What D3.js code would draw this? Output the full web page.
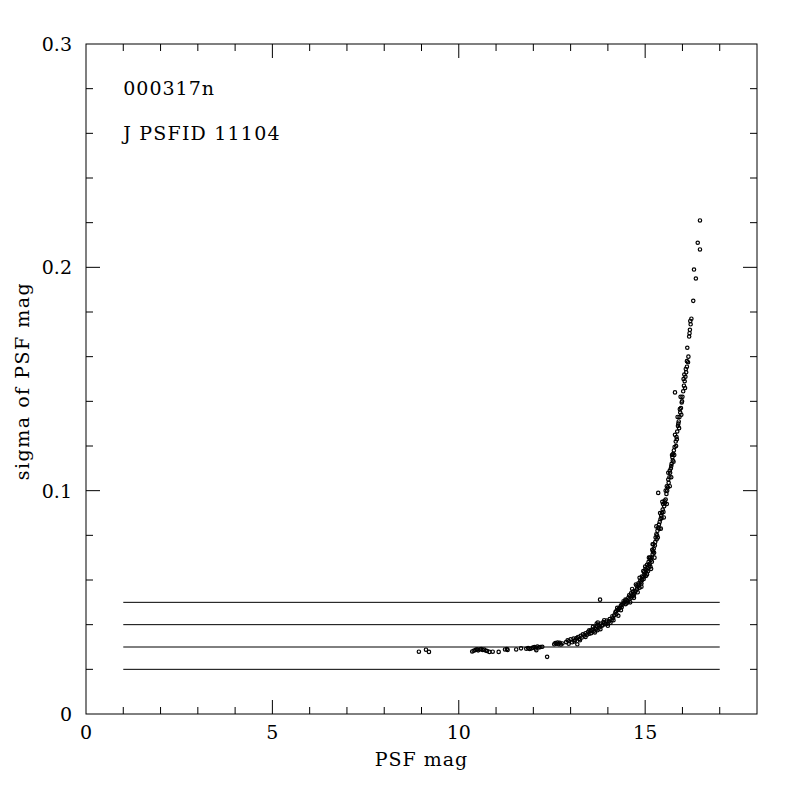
<!DOCTYPE html>
<html>
<head>
<meta charset="utf-8">
<script src="https://cdn.jsdelivr.net/npm/d3@7"></script>
<style>
  body { margin: 0; background: #fff; }
  text { font-family: "DejaVu Serif", serif; fill: #000; }
</style>
</head>
<body>
<div id="chart"></div>
<script>
// PSF magnitude of each star (x)
var mag = [
  8.93, 9.12, 9.20, 10.36, 10.40, 10.45, 10.49, 10.52, 10.56, 10.60, 10.64, 10.68, 10.72, 10.76,
  10.82, 10.91, 11.07, 11.24, 11.29, 11.31, 11.54, 11.67, 11.81, 11.86, 11.90, 11.95, 11.99, 12.03,
  12.06, 12.08, 12.11, 12.15, 12.19, 12.24, 12.37, 12.56, 12.59, 12.62, 12.65, 12.68, 12.71, 12.74,
  12.78, 12.88, 12.92, 12.96, 13.00, 13.04, 13.08, 13.12, 13.16, 13.18, 13.20, 13.23, 13.27, 13.30,
  13.33, 13.37, 13.40, 13.44, 13.47, 13.50, 13.54, 13.58, 13.62, 13.65, 13.68, 13.70, 13.72, 13.75,
  13.78, 13.79, 13.82, 13.84, 13.88, 13.92, 13.95, 13.99, 14.03, 14.07, 14.10, 14.14, 14.17, 14.20,
  14.23, 14.26, 14.28, 14.31, 14.34, 14.37, 14.40, 14.43, 14.46, 14.48, 14.50, 14.53, 14.55, 14.58,
  14.60, 14.63, 14.66, 14.69, 14.72, 14.75, 14.78, 14.80, 14.83, 14.85, 14.88, 14.90, 14.92, 14.94,
  14.96, 14.98, 15.00, 15.02, 15.04, 15.06, 15.08, 15.10, 15.12, 15.14, 15.15, 15.17, 15.18, 15.20,
  15.21, 15.23, 15.24, 15.26, 15.28, 15.30, 15.31, 15.33, 15.35, 15.35, 15.37, 15.39, 15.41, 15.43,
  15.45, 15.47, 15.49, 15.51, 15.53, 15.55, 15.57, 15.59, 15.61, 15.63, 15.65, 15.67, 15.69, 15.71,
  15.73, 15.75, 15.77, 15.79, 15.82, 15.84, 15.86, 15.88, 15.90, 15.92, 15.94, 15.96, 15.80, 15.98,
  16.00, 16.02, 16.04, 16.06, 16.08, 16.10, 16.12, 16.15, 16.13, 16.18, 16.20, 16.22, 16.24, 16.29,
  16.36, 16.31, 16.47, 16.41, 16.47,
  14.47, 14.52, 14.57, 14.62, 14.67, 14.71, 14.77, 14.82, 14.87, 14.91, 14.97, 15.01, 15.05, 15.09,
  15.13, 15.19, 15.22, 15.27, 15.32, 15.38, 15.44, 15.48, 15.52, 15.58, 15.62, 15.66, 15.70, 15.74,
  15.78, 15.85, 15.89, 15.93, 15.99, 16.03, 16.09, 16.16, 16.21, 16.19, 13.55, 13.60, 13.73, 13.86,
  13.97, 14.05, 14.12, 14.22, 14.29, 14.36,
  15.00, 15.05, 15.10, 15.16, 15.20, 15.25, 15.30, 15.34, 15.40, 15.42, 15.46, 15.50, 15.55, 15.58,
  15.62, 15.66, 15.72, 15.70, 15.80, 15.76, 15.87, 15.83, 15.95, 15.91, 16.05, 15.97, 16.12, 16.07,
  14.60, 14.65, 14.70, 14.75, 14.80, 14.85, 14.90, 14.95, 13.65, 13.70, 13.80, 13.90, 14.00, 14.15,
  14.25, 14.35, 14.42, 13.10, 13.25, 13.40, 13.50, 12.95
];
// sigma of PSF mag (y)
var sigma = [
  0.0279, 0.0288, 0.0278, 0.0280, 0.0283, 0.0287, 0.0290, 0.0285, 0.0289, 0.0291, 0.0287, 0.0289, 0.0284, 0.0282,
  0.0278, 0.0279, 0.0278, 0.0289, 0.0291, 0.0287, 0.0289, 0.0294, 0.0292, 0.0295, 0.0291, 0.0294, 0.0297, 0.0300,
  0.0293, 0.0286, 0.0302, 0.0298, 0.0300, 0.0301, 0.0256, 0.0312, 0.0318, 0.0315, 0.0320, 0.0313, 0.0319, 0.0311,
  0.0316, 0.0322, 0.0330, 0.0326, 0.0334, 0.0321, 0.0338, 0.0331, 0.0340, 0.0312, 0.0345, 0.0336, 0.0350, 0.0342,
  0.0357, 0.0352, 0.0361, 0.0355, 0.0368, 0.0359, 0.0372, 0.0378, 0.0370, 0.0385, 0.0380, 0.0392, 0.0375, 0.0398,
  0.0388, 0.0512, 0.0405, 0.0395, 0.0412, 0.0402, 0.0410, 0.0404, 0.0415, 0.0409, 0.0420, 0.0430, 0.0442, 0.0455,
  0.0448, 0.0466, 0.0440, 0.0474, 0.0482, 0.0478, 0.0490, 0.0497, 0.0503, 0.0492, 0.0510, 0.0505, 0.0520, 0.0514,
  0.0527, 0.0521, 0.0535, 0.0530, 0.0545, 0.0552, 0.0560, 0.0570, 0.0578, 0.0565, 0.0590, 0.0584, 0.0600, 0.0612,
  0.0605, 0.0622, 0.0630, 0.0618, 0.0645, 0.0652, 0.0640, 0.0665, 0.0672, 0.0660, 0.0690, 0.0700, 0.0682, 0.0715,
  0.0728, 0.0740, 0.0722, 0.0755, 0.0790, 0.0805, 0.0782, 0.0820, 0.0835, 0.0990, 0.0848, 0.0860, 0.0872, 0.0888,
  0.0900, 0.0915, 0.0905, 0.0930, 0.0945, 0.0960, 0.0985, 0.1000, 0.1015, 0.1035, 0.1060, 0.1080, 0.1100, 0.1120,
  0.1150, 0.1165, 0.1180, 0.1195, 0.1220, 0.1240, 0.1265, 0.1290, 0.1310, 0.1330, 0.1350, 0.1370, 0.1440, 0.1395,
  0.1420, 0.1445, 0.1470, 0.1490, 0.1510, 0.1530, 0.1555, 0.1575, 0.1640, 0.1690, 0.1720, 0.1745, 0.1770, 0.1850,
  0.1950, 0.1990, 0.2080, 0.2110, 0.2210,
  0.0512, 0.0498, 0.0532, 0.0540, 0.0548, 0.0538, 0.0575, 0.0585, 0.0598, 0.0615, 0.0635, 0.0650, 0.0668, 0.0680,
  0.0700, 0.0735, 0.0760, 0.0770, 0.0800, 0.0830, 0.0878, 0.0940, 0.0955, 0.1020, 0.1050, 0.1090, 0.1110, 0.1135,
  0.1160, 0.1230, 0.1300, 0.1365, 0.1400, 0.1500, 0.1545, 0.1600, 0.1760, 0.1705, 0.0362, 0.0390, 0.0410, 0.0398,
  0.0418, 0.0425, 0.0438, 0.0460, 0.0470, 0.0488,
  0.0660, 0.0625, 0.0700, 0.0650, 0.0760, 0.0700, 0.0840, 0.0790, 0.0900, 0.0830, 0.0950, 0.0880, 0.1000, 0.0940,
  0.1080, 0.1020, 0.1160, 0.1060, 0.1250, 0.1130, 0.1330, 0.1200, 0.1420, 0.1280, 0.1520, 0.1340, 0.1580, 0.1460,
  0.0500, 0.0560, 0.0520, 0.0580, 0.0545, 0.0610, 0.0570, 0.0640, 0.0365, 0.0405, 0.0380, 0.0420, 0.0395, 0.0420,
  0.0475, 0.0465, 0.0505, 0.0325, 0.0330, 0.0345, 0.0375, 0.0315
];
// horizontal reference levels, drawn from mag 1 to 17
var levels = [0.02, 0.03, 0.04, 0.05];
var levelRange = [1, 17];
var xTickLabels = [0, 5, 10, 15];
var yTickLabels = [0, 0.1, 0.2, 0.3];
var title1 = "000317n";
var title2 = "J PSFID 11104";

var margin = {top: 44, right: 43, bottom: 86, left: 86},
    width = 800 - margin.left - margin.right,
    height = 800 - margin.top - margin.bottom;

var svg = d3.select("#chart")
  .append("svg")
  .attr("width", 800)
  .attr("height", 800)
  .append("g")
  .attr("transform", "translate(" + margin.left + "," + margin.top + ")");

var x = d3.scaleLinear().domain([0, 18]).range([0, width]);
var y = d3.scaleLinear().domain([0, 0.3]).range([height, 0]);

var majorLen = 14, minorLen = 7;
var fmtY = function(d) { return d === 0 ? "0" : d3.format(".1f")(d); };

// inward ticks on all four sides
function tickLines(values, isMajor) {
  return values.map(function(v) { return {v: v, len: isMajor(v) ? majorLen : minorLen}; });
}
var xTicks = tickLines(d3.range(1, 18), function(v) { return v % 5 === 0; });
var yTicks = tickLines(d3.range(1, 15).map(function(i) { return i * 0.02; }),
                       function(v) { return Math.abs(v * 10 - Math.round(v * 10)) < 1e-6; });

var tg = svg.append("g").attr("stroke", "#000").attr("stroke-width", 1);
tg.selectAll(".xb").data(xTicks).enter().append("line")
  .attr("x1", function(d) { return x(d.v); }).attr("x2", function(d) { return x(d.v); })
  .attr("y1", height).attr("y2", function(d) { return height - d.len; });
tg.selectAll(".xt").data(xTicks).enter().append("line")
  .attr("x1", function(d) { return x(d.v); }).attr("x2", function(d) { return x(d.v); })
  .attr("y1", 0).attr("y2", function(d) { return d.len; });
tg.selectAll(".yl").data(yTicks).enter().append("line")
  .attr("y1", function(d) { return y(d.v); }).attr("y2", function(d) { return y(d.v); })
  .attr("x1", 0).attr("x2", function(d) { return d.len; });
tg.selectAll(".yr").data(yTicks).enter().append("line")
  .attr("y1", function(d) { return y(d.v); }).attr("y2", function(d) { return y(d.v); })
  .attr("x1", width).attr("x2", function(d) { return width - d.len; });

// frame
svg.append("rect")
  .attr("x", 0).attr("y", 0).attr("width", width).attr("height", height)
  .attr("fill", "none").attr("stroke", "#000").attr("stroke-width", 1);

// tick labels
svg.selectAll(".xlab").data(xTickLabels).enter().append("text")
  .attr("x", function(d) { return x(d); })
  .attr("y", height + 25)
  .attr("text-anchor", "middle")
  .style("font-size", "19px")
  .text(function(d) { return d; });
svg.selectAll(".ylab").data(yTickLabels).enter().append("text")
  .attr("x", -14)
  .attr("y", function(d) { return y(d) + 7; })
  .attr("text-anchor", "end")
  .style("font-size", "19px")
  .text(fmtY);

// axis titles
svg.append("text")
  .attr("x", width / 2).attr("y", height + 52)
  .attr("text-anchor", "middle")
  .style("font-size", "19px")
  .style("letter-spacing", "1px")
  .text("PSF mag");
svg.append("text")
  .attr("transform", "translate(" + (-57) + "," + (height / 2 + 2) + ") rotate(-90)")
  .attr("text-anchor", "middle")
  .style("font-size", "19px")
  .style("letter-spacing", "1.5px")
  .text("sigma of PSF mag");

// labels in the corner
svg.append("text").attr("x", x(1)).attr("y", 51).style("font-size", "19px")
  .style("letter-spacing", "1px").text(title1);
svg.append("text").attr("x", x(1)).attr("y", 96).style("font-size", "19px")
  .style("letter-spacing", "1.2px").text(title2);

// reference lines
svg.selectAll(".lvl").data(levels).enter().append("line")
  .attr("x1", x(levelRange[0])).attr("x2", x(levelRange[1]))
  .attr("y1", function(d) { return y(d); }).attr("y2", function(d) { return y(d); })
  .attr("stroke", "#000").attr("stroke-width", 1);

// stars
var pts = mag.map(function(m, i) { return {m: m, s: sigma[i]}; });
svg.append("g").selectAll("circle").data(pts).enter().append("circle")
  .attr("cx", function(d) { return x(d.m); })
  .attr("cy", function(d) { return y(d.s); })
  .attr("r", 1.7)
  .attr("fill", "none")
  .attr("stroke", "#000")
  .attr("stroke-width", 1.2);
</script>
</body>
</html>
